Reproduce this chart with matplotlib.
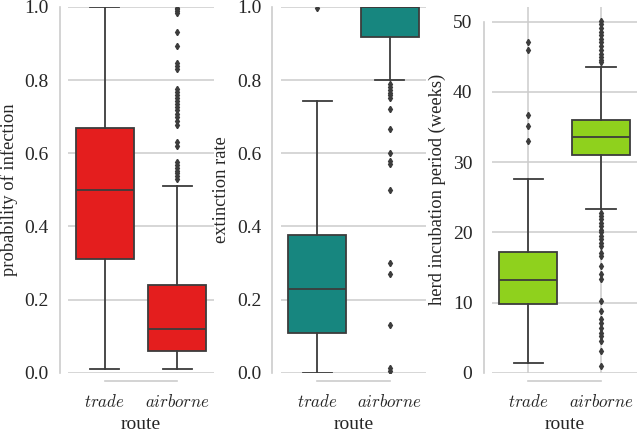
import matplotlib
matplotlib.use("Agg")
import matplotlib.pyplot as plt
from matplotlib.font_manager import FontProperties

plt.rcParams["mathtext.fontset"] = "cm"
plt.rcParams["font.family"] = "Liberation Serif"
plt.rcParams["axes.labelsize"] = 13.3
plt.rcParams["xtick.labelsize"] = 12.2
plt.rcParams["ytick.labelsize"] = 14
plt.rcParams["text.color"] = "#262626"
plt.rcParams["axes.labelcolor"] = "#262626"

routes = ["trade", "airborne"]

# probability of infection
inf_q1 = [0.31, 0.06]
inf_med = [0.50, 0.12]
inf_q3 = [0.67, 0.24]
inf_lo = [0.01, 0.01]
inf_hi = [1.0, 0.51]
inf_fliers = [[], [0.998, 0.993, 0.988, 0.983, 0.932, 0.893, 0.847, 0.838, 0.830,
                   0.776, 0.768, 0.760, 0.752, 0.744, 0.735, 0.727, 0.718, 0.708,
                   0.698, 0.688, 0.676, 0.630, 0.620, 0.576, 0.568, 0.560, 0.552,
                   0.545, 0.537, 0.530]]

# extinction rate
ext_q1 = [0.11, 0.918]
ext_med = [0.23, 1.0]
ext_q3 = [0.378, 1.0]
ext_lo = [0.0, 0.80]
ext_hi = [0.742, 1.0]
ext_fliers = [[0.997], [0.79, 0.782, 0.774, 0.766, 0.758, 0.75, 0.72, 0.667, 0.60,
                        0.578, 0.57, 0.50, 0.30, 0.27, 0.13, 0.012, 0.005]]

# herd incubation period
inc_q1 = [9.74, 30.99]
inc_med = [13.17, 33.6]
inc_q3 = [17.25, 36.03]
inc_lo = [1.43, 23.38]
inc_hi = [27.57, 43.58]
inc_fliers = [[47.1, 45.9, 36.7, 35.2, 33.0],
              [50.1, 49.6, 49.1, 48.6, 48.1, 47.6, 47.1, 46.6, 46.0, 45.4, 44.9,
               44.5, 44.2, 22.8, 22.3, 21.9, 21.4, 20.9, 20.4, 20.0, 19.5, 19.0,
               18.5, 18.1, 17.1, 16.6, 15.2, 14.0, 13.3, 10.2, 8.8, 7.6, 7.1, 6.4,
               5.7, 5.2, 4.5, 3.1, 1.0]]

panels = [
    (inf_q1, inf_med, inf_q3, inf_lo, inf_hi, inf_fliers, "#e41e1e",
     "probability of infection", (0, 1.0), [0, 0.2, 0.4, 0.6, 0.8, 1.0], "{:.1f}", False),
    (ext_q1, ext_med, ext_q3, ext_lo, ext_hi, ext_fliers, "#17867f",
     "extinction rate", (0, 1.0), [0, 0.2, 0.4, 0.6, 0.8, 1.0], "{:.1f}", False),
    (inc_q1, inc_med, inc_q3, inc_lo, inc_hi, inc_fliers, "#8fd11d",
     "herd incubation period (weeks)", (0, 52.1), [0, 10, 20, 30, 40, 50], "{:d}", True),
]

fig = plt.figure(figsize=(6.38, 4.33), dpi=100)
lefts = [0.107, 0.440, 0.771]
edge = "#3c3c3c"
grid = "#cccccc"

for left, (q1, med, q3, lo, hi, fl, color, ylabel, ylim, yticks, fmt, xgrid) in zip(lefts, panels):
    ax = fig.add_axes([left, 0.139, 0.228, 0.845])
    stats = [dict(q1=q1[i], med=med[i], q3=q3[i], whislo=lo[i], whishi=hi[i],
                  fliers=fl[i]) for i in range(2)]
    ax.bxp(stats, positions=[0, 1], widths=0.8, capwidths=0.4, patch_artist=True,
           boxprops=dict(facecolor=color, edgecolor=edge, linewidth=1.3),
           medianprops=dict(color=edge, linewidth=1.3),
           whiskerprops=dict(color=edge, linewidth=1.3),
           capprops=dict(color=edge, linewidth=1.3),
           flierprops=dict(marker="d", markersize=3.2, markerfacecolor=edge,
                           markeredgecolor=edge, linestyle="none"))
    ax.set_xlim(-0.5, 1.5)
    ax.set_ylim(*ylim)
    ax.set_axisbelow(True)
    ax.grid(True, axis="y", color=grid, linewidth=1.1)
    if xgrid:
        ax.grid(True, axis="x", color=grid, linewidth=1.1)
    ax.set_yticks(yticks)
    ax.set_yticklabels([fmt.format(t) for t in yticks])
    for lab in ax.get_yticklabels():
        lab.set_fontproperties(FontProperties(family="Liberation Sans", size=14))
    ax.set_xticks([0, 1])
    ax.set_xticklabels(["$" + r + "$" for r in routes])
    ax.tick_params(length=0, colors="#262626")
    ax.tick_params(axis="y", pad=8)
    ax.tick_params(axis="x", pad=9)
    for s in ["top", "right"]:
        ax.spines[s].set_visible(False)
    for s in ["left", "bottom"]:
        ax.spines[s].set_position(("outward", 6))
        ax.spines[s].set_color(grid)
        ax.spines[s].set_linewidth(1.2)
    ax.spines["bottom"].set_bounds(0, 1)
    ax.spines["left"].set_bounds(yticks[0], yticks[-1])
    ax.set_xlabel("route", fontsize=14, labelpad=4)
    ax.set_ylabel(ylabel, labelpad=5)

fig.savefig("out.png", dpi=100)
